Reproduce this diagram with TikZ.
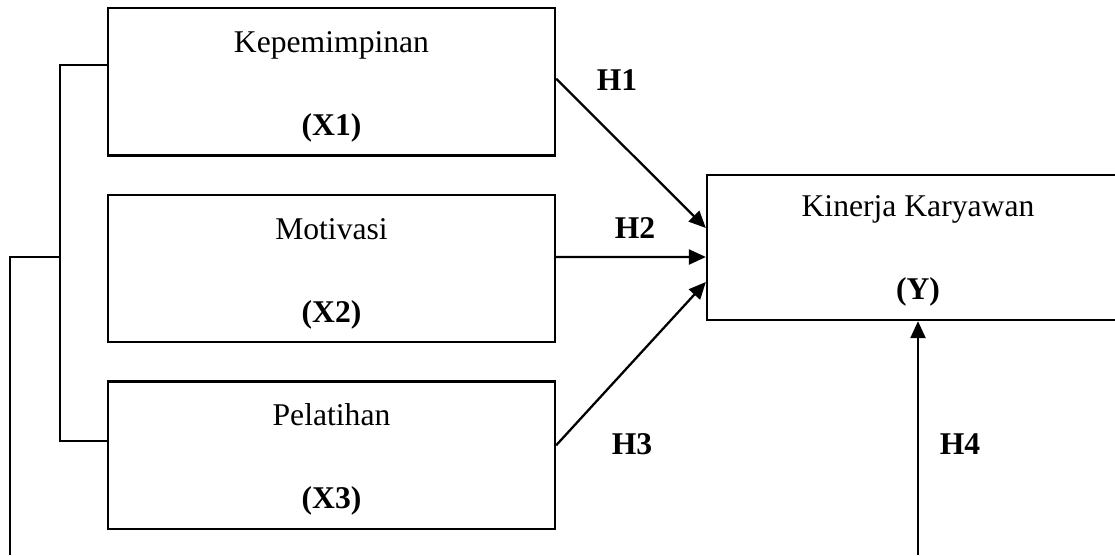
\documentclass[tikz,border=0pt]{standalone}
\usepackage{fontspec}
\setmainfont{Liberation Serif}
\usetikzlibrary{arrows.meta, positioning}

\begin{document}
\begin{tikzpicture}[
			node distance=0.74cm,
			every node/.style={font=\fontsize{18}{21.6}\selectfont},
			box/.style={
				rectangle, draw, line width=1.3pt,
				align=center, minimum width=8.94cm, minimum height=2.95cm
			},
			arrow/.style={
				-{Triangle[length=0.34cm,width=0.3cm]},
				line width=1.3pt
			},
			hlabel/.style={font=\fontsize{18}{21.6}\selectfont\bfseries}
			]
			
			\clip (0,0) rectangle (22.3,11.1);
			
			\node[box] (x1) at (6.63,9.465) {\rule{0pt}{0.62cm}Kepemimpinan \\[0.9cm] \textbf{(X1)}};
			\node[box, below=of x1] (x2) {\rule{0pt}{0.62cm}Motivasi \\[0.9cm] \textbf{(X2)}};
			\node[box, below=of x2] (x3) {\rule{0pt}{0.62cm}Pelatihan \\[0.9cm] \textbf{(X3)}};
			\node[box, minimum width=8.44cm, minimum height=2.9cm] (y) at (18.36,6.15) {\rule{0pt}{0.55cm}Kinerja Karyawan \\[0.9cm] \textbf{(Y)}};
			
			% bracket on the left
			\coordinate (base) at (0,0);
			\coordinate (btop) at (1.2,9.8);
			\coordinate (bbot) at (1.2,2.28);
			\coordinate (bmid) at (1.2,5.96);
			\coordinate (outer) at (0.2,5.96);
			\draw[line width=1.3pt] (btop -| x1.west) -- (btop) -- (bbot) -- (bbot -| x3.west);
			\draw[line width=1.3pt] (bmid) -- (outer) -- (outer |- base);
			
			\draw[arrow] ([yshift=0.06cm]x1.east) -- ([yshift=0.39cm]y.west);
			\draw[arrow] ([yshift=0.23cm]x2.east) -- ([yshift=-0.19cm]y.west);
			\draw[arrow] ([yshift=0.2cm]x3.east) -- ([yshift=-0.69cm]y.west);
			\draw[arrow] (y.south |- base) -- (y.south);
			
			\node[hlabel] (h1) at (12.34,9.5) {H1};
			\node[hlabel] (h2) at (12.7,6.54) {H2};
			\node[hlabel] (h3) at (12.64,2.22) {H3};
			\node[hlabel] (h4) at (19.2,2.22) {H4};
			
		\end{tikzpicture}
\end{document}
